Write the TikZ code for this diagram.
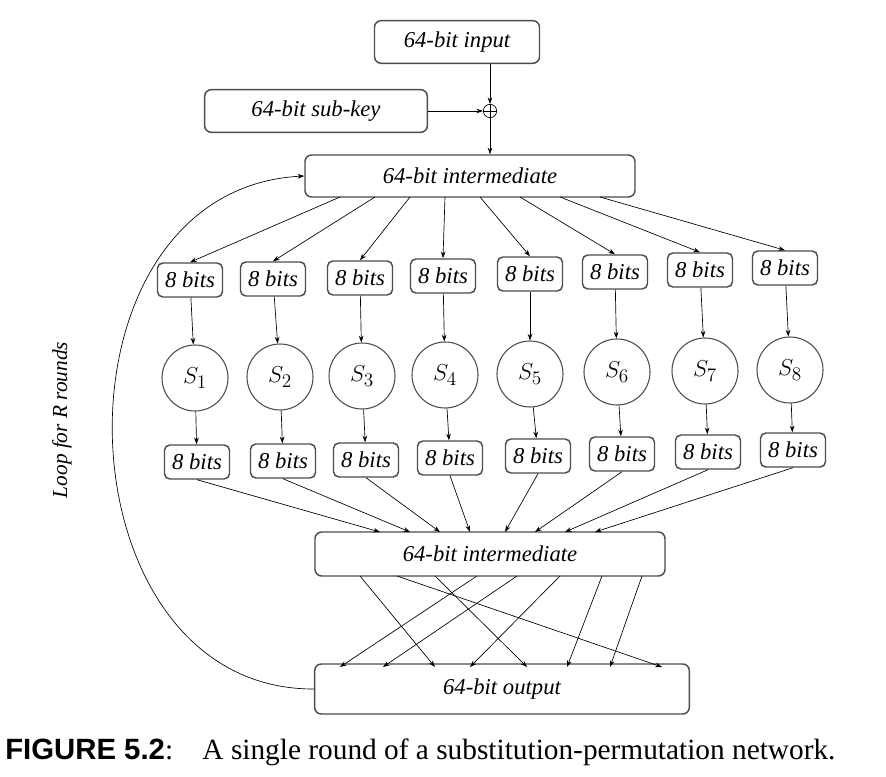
\documentclass[tikz,border=0pt]{standalone}
\usepackage{fontspec}
\setmainfont{Liberation Serif}
\setsansfont{Liberation Sans}
\usetikzlibrary{arrows.meta}
\tikzset{
  bx/.style={draw=black!70,line width=1.1pt,rounded corners=5pt,fill=white,font=\fontsize{17}{20}\selectfont\itshape,inner sep=0pt},
  bit/.style={bx,minimum width=48.75pt,minimum height=25.5pt,rounded corners=4pt},
  sb/.style={circle,draw=black!70,line width=0.8pt,minimum size=49.5pt,inner sep=0pt,font=\fontsize{19}{22}\selectfont},
  ar/.style={-{Stealth[length=5pt,width=3.5pt]},line width=0.5pt}
}
\begin{document}
\begin{tikzpicture}[x=0.75pt,y=-0.75pt]
\useasboundingbox (0,0) rectangle (886,777);
\node[bx,minimum width=123.75pt,minimum height=32pt] (in) at (457,42) {64-bit input};
\node[bx,minimum width=167pt,minimum height=32pt] (sk) at (316,111) {64-bit sub-key};
\node[circle,draw,line width=0.5pt,minimum size=10pt,inner sep=0pt] (x) at (490,111) {};
\draw[line width=0.5pt] (x.north)--(x.south) (x.west)--(x.east);
\node[bx,minimum width=247.5pt,minimum height=31.5pt] (m1) at (470,176) {64-bit intermediate};
\node[bx,minimum width=262.5pt,minimum height=33pt] (m2) at (490,554) {64-bit intermediate};
\node[bx,minimum width=281pt,minimum height=37.5pt] (out) at (502,689) {64-bit output};
\draw[ar] (in.south -| x) -- (x.north);
\draw[ar] (sk.east) -- (x.west);
\draw[ar] (x.south) -- (x.south |- m1.north);
\foreach \i/\ax/\ay/\sx/\sy/\bx/\by/\f in {
 1/190/280/195/378/197/462/340, 2/273/279/280/377/283/461/375, 3/360/278/362/376/366/460/410,
 4/443/276/445/375/450/458/445, 5/530/274/530/374/538/456/480, 6/615/272/617/372/622/454/520,
 7/700/270/705/371/708/452/560, 8/785/268/790/370/793/450/600} {
  \node[bit] (a\i) at (\ax,\ay) {8 bits};
  \node[sb] (s\i) at (\sx,\sy) {$S_{\i}$};
  \node[bit] (b\i) at (\bx,\by) {8 bits};
  \draw[ar] (a\i) -- (s\i);
  \draw[ar] (s\i) -- (b\i);
  \coordinate (t\i) at (\f,197);
  \draw[ar] (t\i) -- (a\i.north);
}
\foreach \i/\e in {1/380,2/410,3/440,4/470,5/505,6/535,7/565,8/595}{
  \coordinate (e\i) at (\e,532);
  \draw[ar] (b\i.south) -- (e\i);
}
\foreach \s/\e in {360/435,397/662,435/527,477/340,517/383,560/470,602/567,642/610}{
  \coordinate (p\s) at (\s,576);
  \coordinate (q\e) at (\e,667);
  \draw[ar] (p\s) -- (q\e);
}
\draw[ar] (out.west) .. controls (55,690) and (40,190) .. (m1.west);
\node[rotate=90,font=\fontsize{16}{18}\selectfont\itshape] (lp) at (62,420) {Loop for R rounds};
\node[anchor=west,inner sep=0pt] (cap) at (5,752) {\fontsize{22}{26}\selectfont\textsf{\textbf{FIGURE 5.2}}:\quad A single round of a substitution-permutation network.};
\end{tikzpicture}
\end{document}
